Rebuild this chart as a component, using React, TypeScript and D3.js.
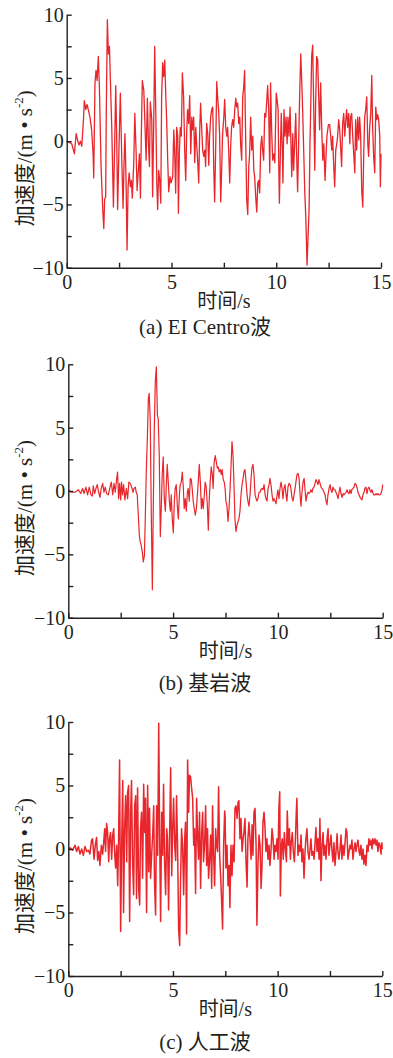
import React, { useEffect, useRef } from 'react';
import * as d3 from 'd3';

// [time (s), acceleration (m/s^2)]
const elCentroWave: [number, number][] = [
  [0, 0], [0.24, -0.2], [0.37, -1.0], [0.45, 0.6], [0.53, 0.0], [0.59, -0.3], [0.65, 0.0], [0.72, -0.4],
  [0.8, 1.7], [0.84, 3.2], [0.91, 2.5], [0.97, 2.9], [1.03, 2.5], [1.11, 1.9], [1.19, 0.9], [1.26, -1.0],
  [1.29, -2.9], [1.35, 4.6], [1.4, 5.6], [1.45, 4.8], [1.51, 6.7], [1.56, 4.3], [1.64, -2.0], [1.72, -5.4],
  [1.77, -6.9], [1.81, -4.6], [1.86, -4.4], [1.89, 2.5], [1.94, 9.6], [1.99, 6.9], [2.04, 7.5], [2.08, 5.1],
  [2.15, 1.1], [2.23, -5.2], [2.29, -0.2], [2.34, 4.4], [2.39, -0.2], [2.43, -5.4], [2.5, -0.2], [2.56, 3.8],
  [2.63, -1.5], [2.69, -5.3], [2.74, -1.5], [2.78, 0.6], [2.83, -2.8], [2.88, -8.6], [2.93, -3.6], [2.98, -2.5],
  [3.04, -3.6], [3.09, -3.1], [3.13, -4.5], [3.2, -1.7], [3.25, 2.2], [3.31, -0.7], [3.36, -3.9], [3.4, -2.8],
  [3.47, -1.0], [3.52, -4.5], [3.56, 0.4], [3.61, 4.8], [3.68, 4.0], [3.74, 1.1], [3.79, -1.5], [3.85, 3.4],
  [3.9, -0.2], [3.95, -2.0], [3.99, 3.1], [4.06, 1.7], [4.1, -4.4], [4.15, 1.1], [4.2, 7.5], [4.25, 2.5],
  [4.3, -3.3], [4.34, -5.4], [4.39, -2.3], [4.44, -3.1], [4.49, -4.9], [4.53, 3.5], [4.58, 6.2], [4.63, 5.1],
  [4.68, 6.4], [4.73, 3.5], [4.77, 1.7], [4.82, -1.5], [4.87, -4.0], [4.93, -2.8], [4.98, -3.3],
  [5.06, -2.8], [5.11, 0.9], [5.15, -0.7], [5.2, -4.1], [5.25, 1.1], [5.3, 0.4], [5.33, -5.7], [5.38, -0.7],
  [5.42, 1.1], [5.47, 0.4], [5.52, 5.4], [5.58, 3.5], [5.63, -0.7], [5.68, -3.1], [5.73, 0.9], [5.77, 2.5],
  [5.82, 1.4], [5.87, 3.6], [5.92, -1.0], [5.97, 1.9], [6.01, 0.9], [6.06, 1.9], [6.11, -1.7], [6.16, 1.1],
  [6.2, -0.2], [6.25, -1.5], [6.3, -3.3], [6.35, 0.9], [6.39, 3.0], [6.44, 1.1], [6.49, -0.7], [6.54, -1.2],
  [6.59, -0.7], [6.63, -2.0], [6.68, 1.4], [6.73, 0.6], [6.78, -1.9], [6.82, 0.4], [6.87, 1.9], [6.92, 2.5],
  [6.97, 2.7], [7.02, -2.3], [7.06, -4.8], [7.11, -0.7], [7.16, 4.7], [7.21, 3.3], [7.25, 2.5], [7.3, 0.4],
  [7.35, -4.8], [7.4, -2.0], [7.44, 0.6], [7.49, 1.7], [7.54, 3.3], [7.59, 1.1], [7.64, 0.4], [7.68, 1.1],
  [7.73, -0.7], [7.78, -3.3], [7.83, -0.2], [7.87, 1.1], [7.92, 1.7], [7.97, 1.1], [8.02, 2.5], [8.07, 3.4],
  [8.11, 2.7], [8.16, 3.0], [8.21, 1.4], [8.26, 1.9], [8.3, -0.2], [8.35, -1.5], [8.4, 3.5], [8.45, 4.3],
  [8.49, 5.6], [8.54, 0.4], [8.59, -4.6], [8.64, -5.8], [8.69, -2.0], [8.73, -1.0], [8.78, 1.9], [8.83, -0.7],
  [8.88, 0.4], [8.93, -2.3], [8.97, -2.8], [9.02, -4.4], [9.07, -5.6], [9.12, -3.3], [9.16, -3.1], [9.21, -4.1],
  [9.26, -0.4], [9.31, 0.4], [9.35, -0.7], [9.4, -1.5], [9.45, 2.2], [9.5, 1.9], [9.54, 3.0], [9.59, 4.4],
  [9.64, 2.5], [9.69, -2.5], [9.73, 4.6], [9.78, 0.9], [9.83, -1.5], [9.88, -1.0], [9.93, -1.7],
  [10.0, 3.8], [10.04, 3.3], [10.09, 2.5], [10.12, -1.8], [10.15, -4.9], [10.2, -0.7], [10.24, 2.2], [10.29, -0.7],
  [10.32, -3.3], [10.37, 2.5], [10.42, 0.4], [10.47, 1.9], [10.52, -0.2], [10.56, 1.9], [10.61, 0.4], [10.66, 2.7],
  [10.71, -0.7], [10.74, -2.8], [10.79, 0.6], [10.83, -2.3], [10.88, -0.2], [10.93, 2.2], [10.98, -1.5], [11.02, -4.0],
  [11.07, -0.2], [11.12, 3.8], [11.17, 6.9], [11.22, 4.6], [11.26, 2.5], [11.31, -0.7], [11.36, -3.9], [11.41, -6.0],
  [11.44, -7.8], [11.47, -9.8], [11.52, -7.5], [11.57, -5.2], [11.61, -0.2], [11.66, 3.8], [11.69, 6.7], [11.74, 7.6],
  [11.79, 2.5], [11.84, -2.3], [11.88, 3.0], [11.93, 6.7], [11.98, 6.4], [12.03, 3.3], [12.07, 0.9], [12.12, 4.6],
  [12.17, 1.1], [12.22, -1.5], [12.27, -0.2], [12.33, -3.1], [12.38, -1.0], [12.42, 0.4], [12.49, 1.3], [12.55, 1.3],
  [12.6, 0.4], [12.65, -0.7], [12.69, 0.4], [12.74, -1.8], [12.79, -3.6], [12.84, -0.7], [12.89, -0.2], [12.93, 0.4],
  [12.98, 1.7], [13.03, 0.9], [13.08, -0.7], [13.12, -2.0], [13.17, 1.4], [13.22, 2.2], [13.27, 0.4], [13.32, 1.7],
  [13.36, 2.5], [13.41, 1.1], [13.46, 2.2], [13.51, -0.2], [13.55, 1.9], [13.6, 2.2], [13.65, 0.4], [13.7, -1.0],
  [13.75, -2.5], [13.79, 1.7], [13.84, -0.7], [13.89, 1.9], [13.94, 0.1], [13.98, 1.9], [14.03, 0.4], [14.08, -3.9],
  [14.13, -5.2], [14.18, -0.7], [14.22, 1.9], [14.27, 2.5], [14.32, 3.5], [14.37, -0.2], [14.41, -1.2], [14.46, 1.1],
  [14.51, 2.2], [14.56, 5.2], [14.6, 1.1], [14.65, -1.2], [14.7, -2.5], [14.75, 2.7], [14.8, 1.7], [14.84, 2.1],
  [14.89, 1.7], [14.94, 0.4], [14.97, -3.6], [15.0, -1.0],
];

const bedrockWave: [number, number][] = [
  [0.0, 0.1], [0.16, -0.1], [0.32, -0.1], [0.48, 0.1], [0.59, -0.2], [0.68, 0.2], [0.75, -0.2], [0.84, 0.3],
  [0.92, -0.3], [1.0, 0.3], [1.08, -0.3], [1.15, -0.4], [1.19, 0.4], [1.26, -0.2], [1.32, 0.2], [1.38, 0.5],
  [1.45, -0.1], [1.51, -0.5], [1.57, 0.2], [1.64, 0.6], [1.7, -0.1], [1.76, 0.3], [1.83, -0.2], [1.91, -0.3],
  [1.99, 0.3], [2.05, 0.7], [2.12, -0.3], [2.18, 0.6], [2.24, -0.1], [2.31, 1.0], [2.35, 1.5], [2.4, -0.6],
  [2.45, 0.6], [2.5, -0.7], [2.54, 0.7], [2.59, -0.3], [2.64, 0.5], [2.7, -0.7], [2.77, 0.2], [2.83, -0.6],
  [2.89, 0.7], [2.96, 0.6], [3.02, 0.3], [3.09, -0.1], [3.13, 0.2], [3.2, 0.3], [3.24, -0.1], [3.29, -0.3],
  [3.34, -1.9], [3.39, -3.5], [3.43, -4.0], [3.48, -4.3], [3.53, -4.8], [3.58, -5.6], [3.63, -5.1], [3.67, -2.4],
  [3.72, 1.5], [3.77, 4.1], [3.82, 7.3], [3.86, 7.7], [3.91, 5.5], [3.96, -1.9], [4.01, -7.8], [4.05, -1.9],
  [4.1, 4.7], [4.15, 8.6], [4.2, 9.8], [4.25, 6.0], [4.29, 5.7], [4.34, 2.8], [4.39, -3.6], [4.44, -1.1],
  [4.48, 1.3], [4.53, 2.7], [4.58, -0.6], [4.63, -1.6], [4.67, 0.2], [4.72, 2.1], [4.77, 0.7], [4.82, -0.8],
  [4.87, -1.6], [4.91, -0.3], [4.96, -2.2], [5.01, -3.3], [5.06, -0.8], [5.1, 0.2], [5.15, 0.5], [5.2, -1.1],
  [5.25, -2.2], [5.3, -0.3], [5.34, 0.5], [5.39, 0.7], [5.44, 1.5], [5.49, 0.2], [5.53, -1.4], [5.58, -0.6],
  [5.63, -1.6], [5.68, -0.1], [5.72, 0.2], [5.77, -0.8], [5.82, 1.0], [5.87, 0.9], [5.91, 0.2], [5.96, -0.8],
  [6.01, -1.4], [6.06, -1.9], [6.11, -1.4], [6.16, -0.3], [6.2, 0.7], [6.25, 2.1], [6.3, 0.7], [6.35, -1.4],
  [6.39, -0.6], [6.44, -1.4], [6.49, -0.3], [6.53, 0.7], [6.58, 0.3], [6.63, -1.0], [6.68, -3.1], [6.72, -0.8],
  [6.77, 0.7], [6.82, 1.9], [6.87, 1.3], [6.91, 0.2], [6.96, 2.3], [7.01, 2.8], [7.06, 2.3], [7.11, 1.8],
  [7.15, 1.9], [7.2, 1.5], [7.25, 1.7], [7.3, 1.3], [7.34, 1.7], [7.39, 0.9], [7.44, 0.7],
  [7.48, 0.2], [7.52, -0.8], [7.57, -1.2], [7.62, -2.4], [7.67, -1.3], [7.72, 0.2], [7.76, 1.8], [7.81, 3.9],
  [7.86, 2.8], [7.91, 0.2], [7.95, -2.2], [8.0, -3.2], [8.05, -2.7], [8.1, -2.4], [8.14, -2.2], [8.19, -1.6],
  [8.24, -0.3], [8.29, 0.5], [8.34, 1.0], [8.38, 1.5], [8.43, 1.7], [8.48, 0.7], [8.53, -0.3], [8.57, -0.8],
  [8.62, -1.2], [8.67, -0.3], [8.72, 1.0], [8.76, 1.8], [8.81, 2.1], [8.86, 1.3], [8.91, -0.3], [8.96, -0.6],
  [9.0, -0.8], [9.05, -0.6], [9.1, -0.1], [9.15, -0.1], [9.19, 0.1], [9.24, 0.2], [9.29, 0.1], [9.34, 0.5],
  [9.39, -0.3], [9.43, -0.6], [9.48, -0.8], [9.53, 0.2], [9.58, 0.5], [9.62, 1.0], [9.67, 0.5], [9.72, -0.3],
  [9.77, -0.8], [9.81, -0.6], [9.86, -0.8], [9.91, -1.0], [9.96, -0.3], [10.0, 0.1], [10.05, -0.6], [10.1, 0.2],
  [10.15, 0.7], [10.2, 0.2], [10.24, -0.6], [10.29, 0.2], [10.34, 0.5], [10.39, -0.3], [10.43, -0.8], [10.48, 0.3],
  [10.53, 0.6], [10.58, 0.5], [10.62, 0.2], [10.67, -0.5], [10.72, -0.8], [10.77, -0.3], [10.82, 0.2], [10.86, 0.7],
  [10.91, 1.3], [10.96, 1.4], [11.01, 1.0], [11.05, -0.1], [11.1, -1.2], [11.15, -0.1], [11.2, 0.7], [11.25, 1.0],
  [11.29, 0.2], [11.34, -0.8], [11.39, -0.3], [11.44, -0.1], [11.48, -0.2], [11.53, -0.1], [11.58, 0.1], [11.63, -0.1],
  [11.67, 0.2], [11.72, 0.3], [11.77, 0.6], [11.82, 0.9], [11.87, 0.7], [11.91, 0.5], [11.96, 0.9], [12.01, 0.6],
  [12.06, 0.3], [12.1, 0.2], [12.15, 0.1], [12.2, -0.1], [12.25, -0.3], [12.29, -0.7], [12.34, -1.1], [12.39, -0.3],
  [12.44, 0.2], [12.49, 0.5], [12.53, 0.1], [12.58, -0.1], [12.63, 0.3], [12.68, 0.1], [12.72, 0.1], [12.77, -0.1],
  [12.82, -0.3], [12.87, -0.6], [12.92, -0.1], [12.96, 0.3], [13.01, -0.2], [13.06, -0.5], [13.11, -0.2], [13.15, -0.3],
  [13.2, -0.2], [13.25, -0.1], [13.3, 0.1], [13.34, -0.1], [13.39, -0.2], [13.44, 0.1], [13.49, -0.2], [13.53, 0.1],
  [13.58, 0.2], [13.63, 0.3], [13.68, 0.6], [13.73, 0.5], [13.77, 0.3], [13.82, -0.1], [13.87, -0.3], [13.92, -0.5],
  [13.96, -0.6], [14.01, -0.7], [14.06, -0.3], [14.11, -0.1], [14.15, 0.2], [14.2, 0.3], [14.25, -0.2], [14.3, 0.2],
  [14.35, 0.3], [14.39, 0.1], [14.44, -0.1], [14.49, 0.1], [14.54, -0.2], [14.58, -0.3], [14.63, -0.3], [14.68, -0.2],
  [14.73, -0.3], [14.77, -0.2], [14.82, -0.3], [14.87, -0.3], [14.92, -0.2], [14.97, 0.1], [15.0, 0.5],
];

const artificialWave: [number, number][] = [
  [0, 0], [0.08, 0.1], [0.21, -0.1], [0.32, 0.3], [0.4, -0.2], [0.48, 0.2], [0.56, -0.4], [0.64, 0.0],
  [0.72, -0.5], [0.8, 0.2], [0.88, -0.2], [0.96, -0.1], [1.03, -0.4], [1.11, 0.7], [1.16, 0.8], [1.23, -0.8],
  [1.29, 0.3], [1.35, 0.9], [1.4, -0.9], [1.46, -0.2], [1.51, -1.3], [1.58, 0.3], [1.64, -0.4], [1.69, 0.5],
  [1.74, 1.6], [1.78, -0.2], [1.83, 2.0], [1.88, 1.3], [1.93, -1.0], [1.97, 0.8], [2.02, 1.3], [2.07, -0.8],
  [2.12, 1.1], [2.17, 1.6], [2.21, -0.2], [2.26, -1.5], [2.31, 0.3], [2.36, -2.9], [2.4, 0.5], [2.45, 7.0],
  [2.5, -6.5], [2.55, 0.3], [2.6, 5.4], [2.64, -5.0], [2.69, 1.6], [2.74, 4.2], [2.79, -1.0], [2.83, 4.4],
  [2.88, 5.0], [2.93, -5.7], [2.98, 2.9], [3.02, 5.4], [3.07, -1.0], [3.12, -3.6], [3.17, 3.4], [3.22, 4.2],
  [3.26, -3.9], [3.31, 4.8], [3.36, -3.1], [3.41, -4.4], [3.45, 1.6], [3.5, 2.9], [3.55, -2.3], [3.6, 5.1],
  [3.65, 1.3], [3.69, 4.0], [3.74, -5.0], [3.79, 5.0], [3.84, -1.8], [3.88, 3.2], [3.93, -2.3], [3.98, -0.5],
  [4.03, 1.1], [4.08, 3.4], [4.12, -2.7], [4.17, -5.2], [4.22, 3.4], [4.27, -0.5], [4.32, 9.9], [4.36, 1.6],
  [4.41, -5.7], [4.46, 2.9], [4.51, -0.5], [4.55, 5.1], [4.6, -1.0], [4.65, -3.6], [4.7, 1.6], [4.74, 0.8],
  [4.79, -4.8], [4.84, 1.1], [4.89, 6.4], [4.94, -2.1], [4.98, 1.3], [5.03, 4.0], [5.08, 0.3], [5.13, -0.9],
  [5.17, 4.2], [5.22, 0.3], [5.27, -6.3], [5.32, -7.6], [5.36, -2.8], [5.41, 1.6], [5.46, 0.3], [5.51, -3.6],
  [5.56, 0.8], [5.6, 2.1], [5.65, -6.7], [5.7, 7.0], [5.75, 2.9], [5.79, 5.8], [5.84, 5.7], [5.89, 4.8],
  [5.94, 4.0], [5.99, 0.3], [6.03, 1.6], [6.08, -3.5], [6.13, 4.0], [6.18, 0.8], [6.22, -0.8], [6.27, 2.9],
  [6.32, -3.1], [6.37, 1.3], [6.42, 2.9], [6.46, -1.0], [6.51, 0.3], [6.56, 3.4], [6.61, -1.3], [6.65, 1.6],
  [6.7, -2.3], [6.75, -0.8], [6.8, 1.1], [6.85, -3.1], [6.89, 3.4], [6.94, -0.5], [6.99, -2.9], [7.04, 1.6],
  [7.08, 0.3], [7.13, -0.2], [7.18, 4.9], [7.23, -0.5], [7.28, -2.3], [7.32, -3.9], [7.37, -6.3], [7.42, 0.3],
  [7.47, 3.0],
  [7.49, 2.6], [7.53, -1.5], [7.58, 0.3], [7.63, -2.9], [7.68, -1.3], [7.72, -4.6], [7.77, 0.3], [7.82, -2.1],
  [7.87, 0.3], [7.92, -1.0], [7.96, 3.2], [8.01, 3.4], [8.06, 2.4], [8.11, 3.7], [8.15, 3.8], [8.2, 0.8],
  [8.25, 2.4], [8.3, -0.2], [8.35, 0.8], [8.39, 1.3], [8.44, 2.4], [8.49, -1.0], [8.54, -3.0], [8.58, 0.8],
  [8.63, 2.1], [8.68, 0.8], [8.73, -0.8], [8.78, 1.9], [8.82, -0.5], [8.87, 2.9], [8.92, 3.2], [8.97, 0.3],
  [9.01, -6.0], [9.06, -1.3], [9.11, 1.1], [9.16, 0.3], [9.21, -3.1], [9.25, -1.5], [9.3, 2.1], [9.35, 2.9],
  [9.4, 1.6], [9.44, -0.2], [9.49, 0.8], [9.54, -0.8], [9.59, 0.3], [9.63, -1.3], [9.68, -0.2], [9.73, 1.6],
  [9.78, 0.8], [9.83, -0.8], [9.87, 0.3], [9.92, -0.2], [9.97, 0.8], [10.02, -0.8], [10.06, 3.2], [10.1, 4.5],
  [10.13, -3.7], [10.18, 0.3], [10.22, 0.8], [10.27, -0.8], [10.32, 1.3], [10.37, 0.0], [10.42, -1.0], [10.46, 3.0],
  [10.51, 0.3], [10.56, 1.6], [10.61, -0.8], [10.65, 0.5], [10.7, 1.3], [10.75, -0.2], [10.8, -1.0], [10.85, 0.8],
  [10.89, 2.9], [10.92, 4.0], [10.97, -0.5], [11.02, 0.3], [11.07, -0.2], [11.12, 1.1], [11.16, -1.0], [11.21, 0.0],
  [11.26, -2.3], [11.31, -0.2], [11.35, 0.8], [11.4, 1.6], [11.45, -0.2], [11.5, -0.8], [11.55, 0.0], [11.59, 0.8],
  [11.64, -0.5], [11.69, -0.2], [11.74, -0.8], [11.78, 0.3], [11.83, 1.7], [11.88, -0.2], [11.93, 0.8], [11.98, -0.8],
  [12.02, 2.4], [12.07, -2.5], [12.12, 0.3], [12.17, 1.3], [12.21, -0.5], [12.26, 0.3], [12.31, -0.8], [12.36, 0.8],
  [12.41, 1.6], [12.45, -0.5], [12.5, 0.3], [12.55, 1.1], [12.6, -0.2], [12.64, -1.0], [12.69, 0.5], [12.74, -1.3],
  [12.79, -0.2], [12.84, 1.2], [12.88, -0.2], [12.93, -0.8], [12.98, 0.0], [13.03, 1.1], [13.07, -0.8], [13.12, 0.3],
  [13.17, -0.5], [13.22, 0.5], [13.27, 1.6], [13.31, 1.3], [13.36, -0.8], [13.41, -0.2], [13.46, 0.3], [13.5, 0.0],
  [13.55, 0.7], [13.6, -0.8], [13.65, 0.0], [13.7, 0.5], [13.74, -0.2], [13.79, 0.3], [13.84, 0.7], [13.89, -0.2],
  [13.93, -0.5], [13.98, 0.3], [14.03, -0.8], [14.08, 0.0], [14.12, -1.2], [14.17, -0.5], [14.22, -1.3], [14.27, 0.3],
  [14.32, -0.2], [14.36, 0.8], [14.41, 0.3], [14.46, 0.7], [14.51, 0.0], [14.55, 0.8], [14.6, 0.4], [14.65, 0.8],
  [14.7, 0.3], [14.75, 0.7], [14.79, -0.2], [14.84, 0.5], [14.89, 0.3], [14.94, -0.4], [14.98, 0.5], [15.0, 0.0],
];

const majorTicksX = [0, 5, 10, 15];
const minorTicksX = [2.5, 7.5, 12.5];
const majorTicksY = [-10, -5, 0, 5, 10];
const minorTicksY = [-7.5, -2.5, 2.5, 7.5];
const captions = ['(a) EI Centro波', '(b) 基岩波', '(c) 人工波'];
const xTitle = '时间/s';

const FONT = "'Liberation Serif', 'Times New Roman', 'Noto Sans CJK SC', serif";
const RED = '#e8262c';
const INK = '#231f20';

const App = () => {
  const svgRef = useRef<SVGSVGElement>(null);

  useEffect(() => {
    const svg = d3.select(svgRef.current);
    svg.selectAll('*').remove();

    const panels = [
      { data: elCentroWave, left: 66.7, right: 381, top: 14.7, bottom: 267.7, captionY: 334, lw: 1.3 },
      { data: bedrockWave, left: 68.3, right: 382.7, top: 364.3, bottom: 617.7, captionY: 690, lw: 1.2 },
      { data: artificialWave, left: 68.3, right: 382.3, top: 722, bottom: 976, captionY: 1049, lw: 1.5 },
    ];

    panels.forEach((p, i) => {
      const x = d3.scaleLinear().domain([0, 15]).range([p.left, p.right]);
      const y = d3.scaleLinear().domain([-10, 10]).range([p.bottom, p.top]);
      const g = svg.append('g');

      // acceleration trace
      const line = d3
        .line<[number, number]>()
        .x(d => x(d[0]))
        .y(d => y(d[1]));
      g.append('path')
        .datum(p.data)
        .attr('fill', 'none')
        .attr('stroke', RED)
        .attr('stroke-width', p.lw)
        .attr('stroke-linejoin', 'round')
        .attr('d', line);

      // y axis, ticks pointing inward
      const yAxis = g
        .append('g')
        .attr('transform', `translate(${p.left},0)`)
        .call(d3.axisLeft(y).tickValues(majorTicksY).tickSizeInner(-5).tickSizeOuter(0).tickPadding(3))
        .attr('font-family', FONT)
        .attr('font-size', 20);
      g.append('g')
        .attr('transform', `translate(${p.left},0)`)
        .call(d3.axisLeft(y).tickValues(minorTicksY).tickSizeInner(-5).tickSizeOuter(0).tickFormat(() => ''))
        .call(s => s.select('.domain').remove());

      // x axis
      const xAxis = g
        .append('g')
        .attr('transform', `translate(0,${p.bottom})`)
        .call(d3.axisBottom(x).tickValues(majorTicksX).tickSizeInner(-5).tickSizeOuter(0).tickPadding(7))
        .attr('font-family', FONT)
        .attr('font-size', 20);
      g.append('g')
        .attr('transform', `translate(0,${p.bottom})`)
        .call(d3.axisBottom(x).tickValues(minorTicksX).tickSizeInner(-5).tickSizeOuter(0).tickFormat(() => ''))
        .call(s => s.select('.domain').remove());

      g.selectAll('.domain, .tick line').attr('stroke', INK).attr('stroke-width', 1.4);
      [yAxis, xAxis].forEach(a => a.selectAll('text').attr('fill', INK));

      // x title
      g.append('text')
        .attr('x', (p.left + p.right) / 2)
        .attr('y', p.bottom + 40)
        .attr('text-anchor', 'middle')
        .attr('font-family', FONT)
        .attr('font-size', 20)
        .attr('fill', INK)
        .text(xTitle);

      // y title (rotated)
      const yt = g
        .append('text')
        .attr('transform', `translate(25,${(p.top + p.bottom) / 2 + 17}) rotate(-90)`)
        .attr('text-anchor', 'middle')
        .attr('dy', '0.35em')
        .attr('font-family', FONT)
        .attr('font-size', 21)
        .attr('fill', INK);
      yt.append('tspan').text('加速度/(m • s');
      yt.append('tspan').attr('font-size', 13).attr('dy', -9).text('-2');
      yt.append('tspan').attr('dy', 9).text(')');

      // caption
      g.append('text')
        .attr('x', 205)
        .attr('y', p.captionY)
        .attr('text-anchor', 'middle')
        .attr('font-family', FONT)
        .attr('font-size', 21)
        .attr('fill', INK)
        .text(captions[i]);
    });
  }, []);

  return (
    <svg
      ref={svgRef}
      width={393}
      height={1058}
      style={{ position: 'absolute', left: 0, top: 0, background: '#fff' }}
    />
  );
};

export default App;
